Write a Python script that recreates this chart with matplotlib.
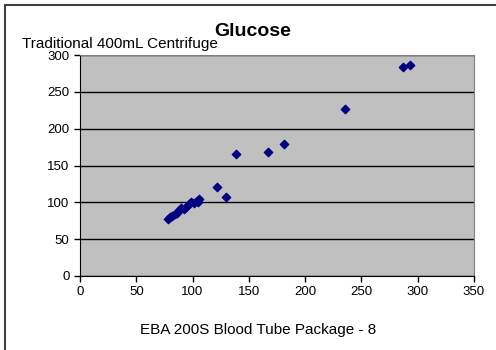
import matplotlib
matplotlib.use('Agg')
import matplotlib.pyplot as plt
from matplotlib.patches import Rectangle

plt.rcParams['font.family'] = ['Liberation Sans', 'DejaVu Sans']

# EBA 200S vs traditional centrifuge glucose readings
eba_values = [78, 80, 82, 84, 86, 88, 90, 92, 94, 97, 99, 101, 104, 106, 105,
              122, 130, 139, 167, 181, 235, 287, 293]
trad_values = [78, 80, 82, 84, 86, 89, 92, 91, 94, 98, 100, 99, 102, 105, 100,
               121, 107, 165, 169, 179, 227, 284, 286]
x_ticks = [0, 50, 100, 150, 200, 250, 300, 350]
y_ticks = [0, 50, 100, 150, 200, 250, 300]

fig = plt.figure(figsize=(4.96, 3.5), dpi=100)
ax = fig.add_axes([80 / 496, 1 - 276 / 350, 394 / 496, 221 / 350])

ax.set_facecolor('#c0c0c0')
ax.scatter(eba_values, trad_values, marker='D', s=18, color='#000080',
           edgecolors='#000080', zorder=3)

ax.set_xlim(0, 350)
ax.set_ylim(0, 300)
ax.set_xticks(x_ticks)
ax.set_yticks(y_ticks)
ax.tick_params(direction='out', length=4, width=1, labelsize=9.5, colors='black')
ax.yaxis.grid(True, color='black', linewidth=1)
ax.set_axisbelow(True)

for side in ('top', 'right'):
    ax.spines[side].set_color('#808080')
for side in ('left', 'bottom'):
    ax.spines[side].set_color('black')

fig.text(253 / 496, 1 - 31 / 350, 'Glucose', ha='center', va='center',
         fontsize=14, fontweight='bold')
fig.text(22 / 496, 1 - 44 / 350, 'Traditional 400mL Centrifuge', ha='left',
         va='center', fontsize=11)
fig.text(258 / 496, 1 - 330 / 350, 'EBA 200S Blood Tube Package - 8',
         ha='center', va='center', fontsize=11)

# outer chart frame
fig.patches.append(Rectangle((5 / 496, -0.05), 1.0, 1 - 5 / 350 + 0.05,
                             transform=fig.transFigure, fill=False,
                             edgecolor='#404040', linewidth=1.5))

fig.savefig('out.png', dpi=100)
